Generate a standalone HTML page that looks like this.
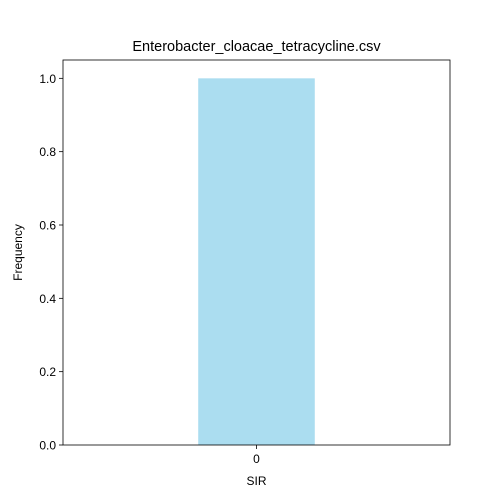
<!DOCTYPE html>
<html><head><meta charset="utf-8"><style>
body{margin:0;background:#fff;}
svg{display:block;font-family:"Liberation Sans","DejaVu Sans",sans-serif;}
</style></head><body>
<svg id="chart" width="500" height="500"></svg>
<script>
const categories = ["0"];
const values = [1.0];
const yTicks = [0.0, 0.2, 0.4, 0.6, 0.8, 1.0];
const yTickLabels = ["0.0", "0.2", "0.4", "0.6", "0.8", "1.0"];

const svg = document.getElementById('chart');
const NS = 'http://www.w3.org/2000/svg';
const L = 63, R = 450, T = 60, B = 445;
const yMax = 1.05;
const xMin = -0.83, xMax = 0.83, barW = 0.5;
const y = v => B - (v / yMax) * (B - T);
const x = v => L + (v - xMin) / (xMax - xMin) * (R - L);
function mk(tag, attrs, text) {
  const e = document.createElementNS(NS, tag);
  for (const k in attrs) e.setAttribute(k, attrs[k]);
  if (text !== undefined) e.textContent = text;
  svg.appendChild(e);
  return e;
}
categories.forEach((c, i) => {
  const b = mk('rect', {x: x(i - barW / 2), y: y(values[i]), width: x(i + barW / 2) - x(i - barW / 2), height: y(0) - y(values[i]), fill: '#abddf0'});
  
  
  const t = mk('line', {x1: x(i), x2: x(i), y1: B, y2: B + 4, stroke: '#000', 'stroke-width': 0.8});
  
  
  const lb = mk('text', {x: x(i), y: B + 18, 'text-anchor': 'middle', 'font-size': 12}, c);
  
  
});
yTicks.forEach((v, i) => {
  const t = mk('line', {x1: L - 4, x2: L, y1: y(v), y2: y(v), stroke: '#000', 'stroke-width': 0.8});
  
  
  const lb = mk('text', {x: L - 7, y: y(v) + 4.5, 'text-anchor': 'end', 'font-size': 12}, yTickLabels[i]);
  
  
});
const frame = mk('rect', {x: L, y: T, width: R - L, height: B - T, fill: 'none', stroke: '#000', 'stroke-width': 0.8});


const title = mk('text', {x: (L + R) / 2, y: T - 9, 'text-anchor': 'middle', 'font-size': 14.5}, 'Enterobacter_cloacae_tetracycline.csv');


const xt = mk('text', {x: (L + R) / 2, y: 485, 'text-anchor': 'middle', 'font-size': 12}, 'SIR');


const yt = mk('text', {x: 22, y: (T + B) / 2, 'text-anchor': 'middle', 'font-size': 12, transform: 'rotate(-90 22 ' + (T + B) / 2 + ')'}, 'Frequency');


</script>
</body></html>
